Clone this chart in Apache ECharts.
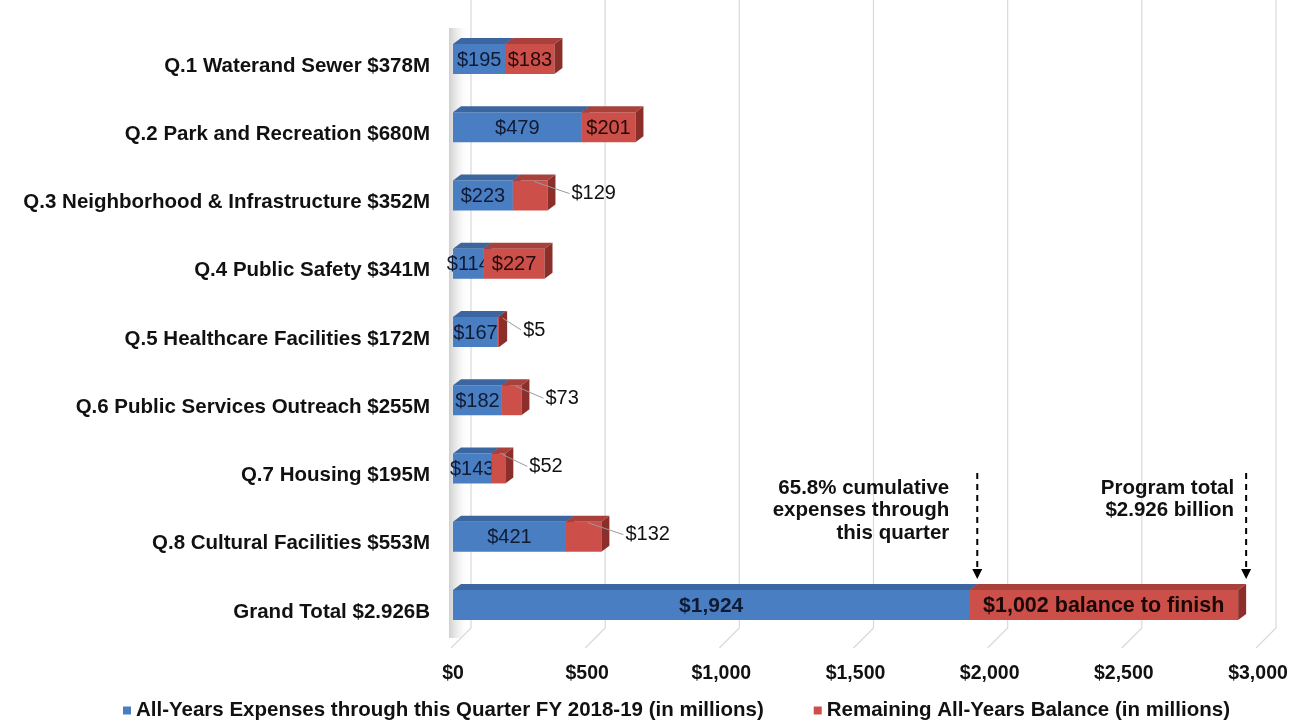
<!DOCTYPE html>
<html>
<head>
<meta charset="utf-8">
<script src="https://cdn.jsdelivr.net/npm/echarts@6/dist/echarts.min.js"></script>
<style>
  html, body { margin: 0; padding: 0; background: #fff; }
  #chart { width: 1304px; height: 727px; }
</style>
</head>
<body>
<div id="chart"></div>
<script>
(function() {
	// bond program categories, top to bottom
	var categories = [
		'Q.1 Waterand Sewer $378M',
		'Q.2 Park and Recreation $680M',
		'Q.3 Neighborhood & Infrastructure $352M',
		'Q.4 Public Safety $341M',
		'Q.5 Healthcare Facilities $172M',
		'Q.6 Public Services Outreach $255M',
		'Q.7 Housing $195M',
		'Q.8 Cultural Facilities $553M',
		'Grand Total $2.926B'
	];
	// in millions
	var expenses = [195, 479, 223, 114, 167, 182, 143, 421, 1924];
	var balances = [183, 201, 129, 227, 5, 73, 52, 132, 1002];
	var xTicks = [0, 500, 1000, 1500, 2000, 2500, 3000];

	var expenseName = 'All-Years Expenses through this Quarter FY 2018-19 (in millions)';
	var balanceName = 'Remaining All-Years Balance (in millions)';

	var FONT = '"Liberation Sans", Arial, sans-serif';
	var DX = 8, DY = 6, BAR_H = 30, SHIFT = -7;

	function money(v) {
		return '$' + v.toLocaleString('en-US');
	}

	var expenseData = expenses.map(function(v, i) { return [0, v, i]; });
	var balanceData = balances.map(function(v, i) { return [expenses[i], expenses[i] + v, i]; });

	var colors = {
		blue: { front: '#4a7ec2', top: '#3b669f', side: '#2f5586', text: '#101a33' },
		red:  { front: '#cc4f4a', top: '#a8403c', side: '#8c2f2b', text: '#240a09' }
	};

	function makeBar(kind) {
		var c = colors[kind];
		return function(params, api) {
			var start = api.value(0), end = api.value(1), idx = api.value(2);
			var p0 = api.coord([start, idx]);
			var p1 = api.coord([end, idx]);
			var x0 = p0[0], x1 = p1[0];
			var yT = p0[1] - BAR_H / 2 + SHIFT;
			var yB = yT + BAR_H;
			var last = idx === categories.length - 1;
			var kids = [];
			kids.push({ type: 'rect', shape: { x: x0, y: yT, width: x1 - x0, height: BAR_H },
				style: { fill: c.front } });
			kids.push({ type: 'polygon', shape: { points: [[x0, yT], [x1, yT], [x1 + DX, yT - DY], [x0 + DX, yT - DY]] },
				style: { fill: c.top } });
			kids.push({ type: 'polygon', shape: { points: [[x1, yT], [x1 + DX, yT - DY], [x1 + DX, yB - DY], [x1, yB]] },
				style: { fill: c.side } });

			var val = end - start;
			var midY = (yT + yB) / 2 + 1;
			if (kind === 'blue') {
				kids.push({ type: 'text', style: { text: money(val), x: (x0 + x1) / 2, y: midY,
					align: 'center', verticalAlign: 'middle', fill: c.text,
					font: (last ? 'bold 21px ' : '20px ') + FONT } });
			} else if (last) {
				kids.push({ type: 'text', style: { text: money(val) + ' balance to finish', x: (x0 + x1) / 2, y: midY,
					align: 'center', verticalAlign: 'middle', fill: '#1a0806', font: 'bold 21.5px ' + FONT } });
				// dashed pointers to the split and to the program total
				[[x0 + DX, ['65.8% cumulative', 'expenses through', 'this quarter'], 28],
				 [x1 + DX, ['Program total', '$2.926 billion'], 12]].forEach(function(a) {
					var ax = a[0], tip = yT - DY - 5;
					kids.push({ type: 'line', shape: { x1: ax, y1: tip - 106, x2: ax, y2: tip - 8 },
						style: { stroke: '#000', lineWidth: 2, lineDash: [6, 5] } });
					kids.push({ type: 'polygon', shape: { points: [[ax - 5, tip - 10], [ax + 5, tip - 10], [ax, tip]] },
						style: { fill: '#000' } });
					kids.push({ type: 'text', style: { text: a[1].join('\n'), x: ax - a[2], y: tip - 102,
						align: 'right', verticalAlign: 'top', lineHeight: 22.5, fill: '#111',
						font: 'bold 20.5px ' + FONT } });
				});
			} else if (val < 150) {
				var lx = x1 + DX + 16;
				var fx = (x0 + x1 + DX) / 2;
				kids.push({ type: 'line', shape: { x1: fx, y1: yT + 1, x2: lx - 2, y2: midY - 3 },
					style: { stroke: '#9a9a9a', lineWidth: 1 } });
				kids.push({ type: 'text', style: { text: money(val), x: lx, y: midY - 3,
					align: 'left', verticalAlign: 'middle', fill: '#111', font: '20px ' + FONT } });
			} else {
				kids.push({ type: 'text', style: { text: money(val), x: (x0 + x1) / 2, y: midY,
					align: 'center', verticalAlign: 'middle', fill: c.text, font: '20px ' + FONT } });
			}
			return { type: 'group', children: kids };
		};
	}

	// back wall grid lines with a short slanted floor edge
	function renderGrid(params, api) {
		var cs = params.coordSys;
		var x = api.coord([api.value(0), 0])[0];
		var bottom = cs.y + cs.height;
		var kids = [{ type: 'polyline', shape: { points: [[x + 18, 0], [x + 18, bottom - 18], [x - 2, bottom + 2]] },
			style: { stroke: '#d9d9d9', lineWidth: 1.2, fill: null } }];
		if (api.value(0) === 0) {
			kids.push({ type: 'rect', shape: { x: x - 4, y: cs.y - 4, width: 20, height: cs.height - 4 },
				style: { fill: new echarts.graphic.LinearGradient(0, 0, 1, 0, [
					{ offset: 0, color: 'rgba(150,150,150,0.45)' },
					{ offset: 0.5, color: 'rgba(210,210,210,0.3)' },
					{ offset: 1, color: 'rgba(255,255,255,0)' }]) } });
		}
		return { type: 'group', children: kids };
	}

	var myChart = echarts.init(document.getElementById('chart'));
	var option = {
		backgroundColor: '#fff',
		animation: false,
		grid: { left: 453, right: 46, top: 32, bottom: 81 },
		legend: {
			data: [expenseName, balanceName],
			left: 118,
			bottom: 1,
			icon: 'rect',
			itemWidth: 8,
			itemHeight: 8,
			itemGap: 50,
			textStyle: { fontFamily: FONT, fontWeight: 'bold', fontSize: 20.5, color: '#111' }
		},
		xAxis: {
			type: 'value',
			min: 0,
			max: 3000,
			interval: 500,
			axisLine: { show: false },
			axisTick: { show: false },
			splitLine: { show: false },
			axisLabel: {
				margin: 18,
				fontFamily: FONT, fontWeight: 'bold', fontSize: 19.5, color: '#111',
				formatter: function(v) { return money(v); }
			}
		},
		yAxis: {
			type: 'category',
			data: categories,
			inverse: true,
			axisLine: { show: false },
			axisTick: { show: false },
			axisLabel: { margin: 23, fontFamily: FONT, fontWeight: 'bold', fontSize: 20.5, color: '#111' }
		},
		series: [{
			type: 'custom',
			name: 'grid',
			silent: true,
			clip: false,
			z: 0,
			renderItem: renderGrid,
			encode: { x: 0 },
			data: xTicks.map(function(v) { return [v]; })
		}, {
			type: 'custom',
			name: expenseName,
			clip: false,
			z: 2,
			itemStyle: { color: colors.blue.front },
			renderItem: makeBar('blue'),
			encode: { x: [0, 1], y: 2 },
			data: expenseData
		}, {
			type: 'custom',
			name: balanceName,
			clip: false,
			z: 3,
			itemStyle: { color: colors.red.front },
			renderItem: makeBar('red'),
			encode: { x: [0, 1], y: 2 },
			data: balanceData
		}]
	};
	myChart.setOption(option);
}).call(this);
</script>
</body>
</html>
